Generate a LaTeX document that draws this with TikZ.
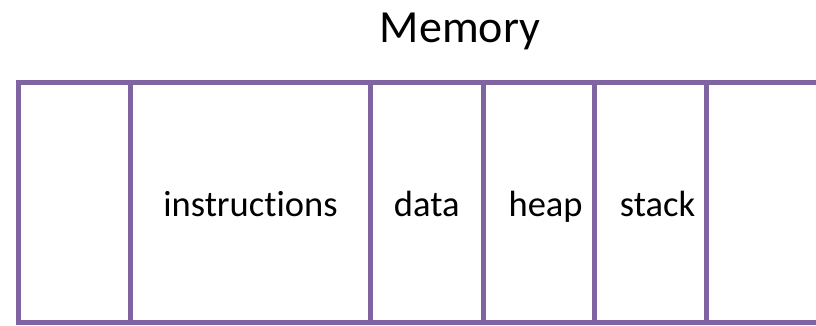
\documentclass[tikz,border=0pt]{standalone}
\usepackage{fontspec}
\setmainfont{Carlito}[Ligatures=NoCommon]
\definecolor{cellline}{HTML}{8064A2}
\begin{document}
\begin{tikzpicture}[x=1pt,y=1pt,
  cell/.style={draw=cellline, line width=5pt, rectangle, inner sep=0pt,
    minimum height=239.5pt},
  lbl/.style={font=\fontsize{36.5}{44}\selectfont, anchor=base, inner sep=0pt},
  title/.style={font=\fontsize{46}{55}\selectfont, anchor=base, inner sep=0pt}]
  \useasboundingbox (0,0) rectangle (816,326);
  % memory cells, left to right
  \node[cell, minimum width=112.5pt] (free1)  at (74.25,123.25) {};
  \node[cell, minimum width=240pt]   (instr)  at (250.5,123.25) {};
  \node[cell, minimum width=112.5pt] (data)   at (426.75,123.25) {};
  \node[cell, minimum width=111.3pt] (heap)   at (538.65,123.25) {};
  \node[cell, minimum width=112.4pt] (stack)  at (650.5,123.25) {};
  \node[cell, minimum width=111.3pt] (free2)  at (762.35,123.25) {};
  % cell labels on a common baseline
  \node[lbl] (instrtxt) at ([yshift=-14pt]instr.center) {instructions};
  \node[lbl] (datatxt)  at ([yshift=-14pt]data.center)  {data};
  \node[lbl] (heaptxt)  at ([xshift=7pt,yshift=-14pt]heap.center)  {heap};
  \node[lbl] (stacktxt) at ([xshift=7pt,yshift=-14pt]stack.center) {stack};
  % heading
  \node[title] (mem) at (460,283.3) {Memory};
\end{tikzpicture}
\end{document}
